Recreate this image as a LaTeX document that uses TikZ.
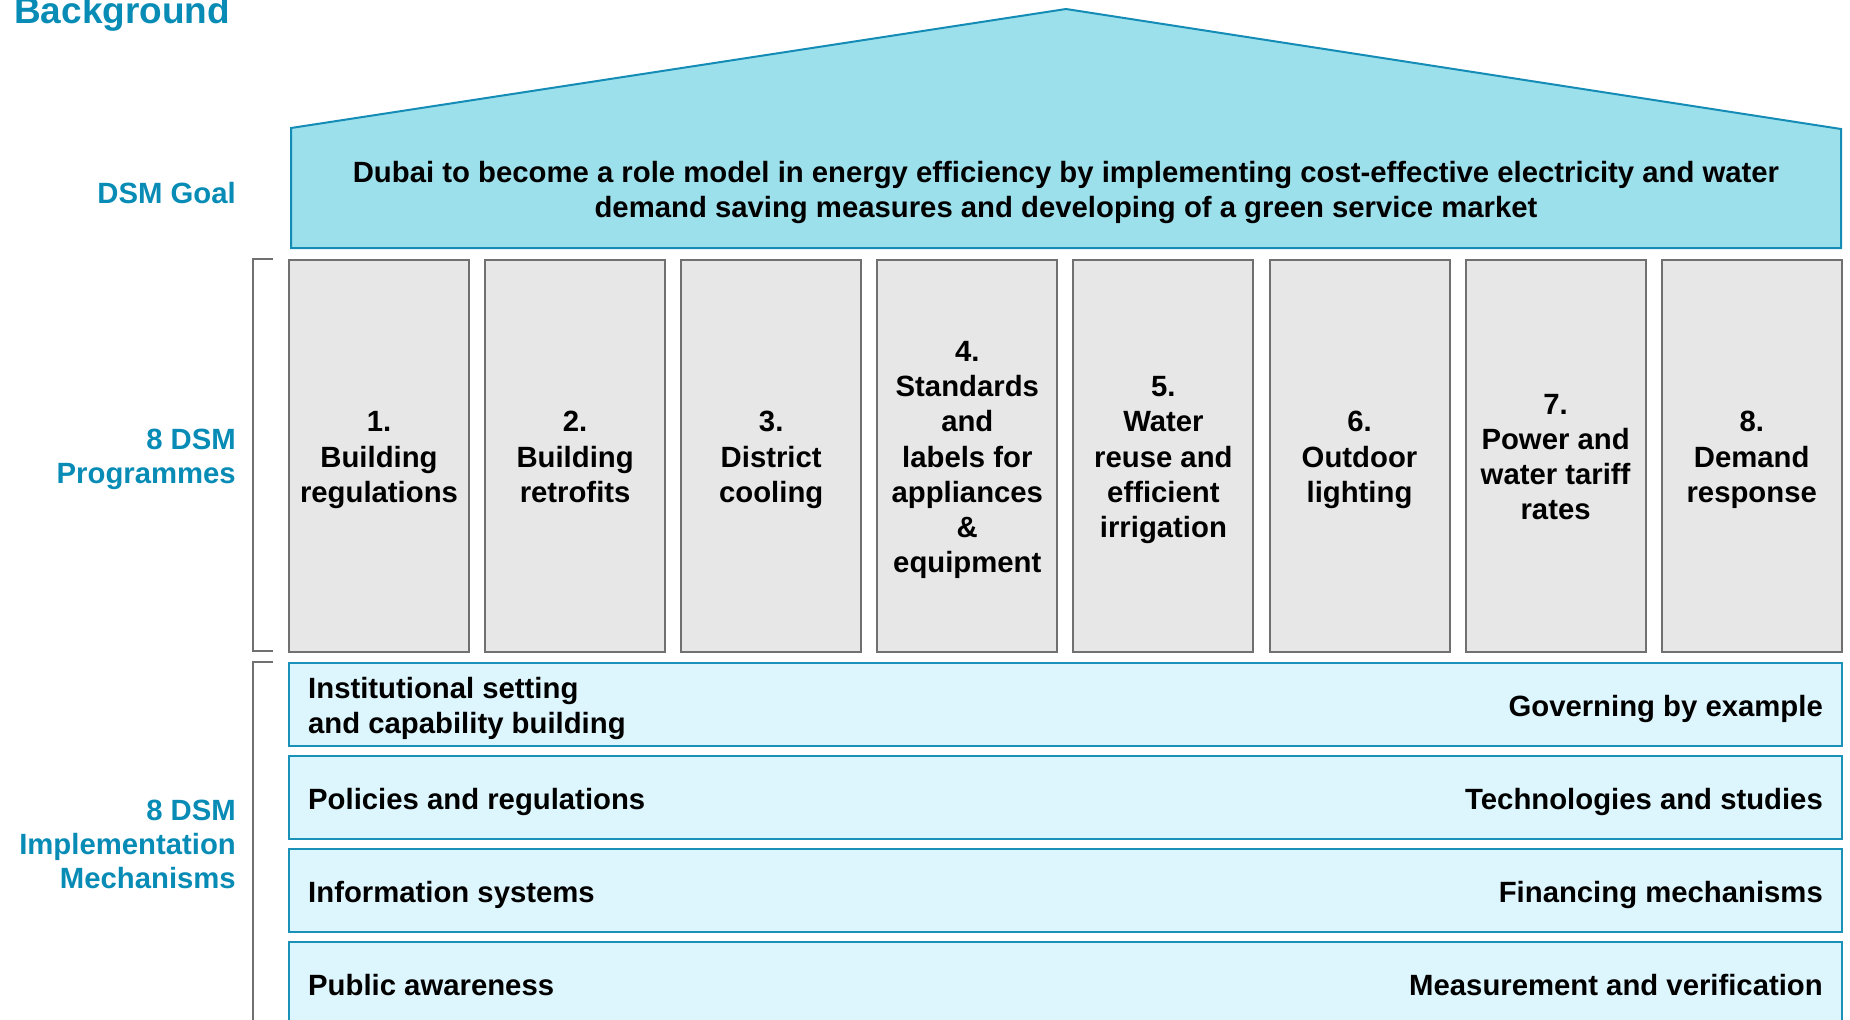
\documentclass[tikz,border=0pt]{standalone}
\usepackage{fontspec}
\setmainfont{Liberation Sans}
\usetikzlibrary{calc}
\definecolor{lblc}{RGB}{8,140,182}
\definecolor{rooffill}{RGB}{156,224,236}
\definecolor{roofline}{RGB}{20,140,182}
\definecolor{progfill}{RGB}{231,231,231}
\definecolor{progline}{RGB}{112,112,112}
\definecolor{mechfill}{RGB}{221,245,252}
\definecolor{mechline}{RGB}{25,145,185}
\definecolor{brkc}{RGB}{112,112,112}
\tikzset{
  lbl/.style={text=lblc, font=\fontsize{29.3}{34}\selectfont\bfseries, align=right, inner sep=0pt},
  prog/.style={draw=progline, fill=progfill, line width=2pt, minimum width=180pt, minimum height=392pt, inner sep=0pt, anchor=north west},
  progtxt/.style={font=\fontsize{29.3}{35.2}\selectfont\bfseries, align=center, inner sep=0pt},
  mech/.style={draw=mechline, fill=mechfill, line width=2pt, minimum width=1553pt, minimum height=83pt, inner sep=0pt, anchor=north west},
  mechtxt/.style={font=\fontsize{29.3}{35}\selectfont\bfseries, inner sep=0pt},
  goaltxt/.style={font=\fontsize{29.3}{35.4}\selectfont\bfseries, align=center, inner sep=0pt},
  brk/.style={draw=brkc, line width=2pt},
  roofst/.style={draw=roofline, fill=rooffill, line width=2pt, line join=miter}
}
\begin{document}
\begin{tikzpicture}[x=1pt,y=-1pt]
\useasboundingbox (0,0) rectangle (1850,1020);
% titles and side labels
\node[lbl, anchor=base west, font=\fontsize{37}{44}\selectfont\bfseries] (bg) at (14,23) {Background};
\node[lbl, anchor=base east] (lgoal) at (236,203) {DSM Goal};
\node[lbl, anchor=east] (lprog) at (236,460) {\strut 8 DSM\\Programmes\strut};
\node[lbl, anchor=east] (lmech) at (236,848) {\strut 8 DSM\\Implementation\\Mechanisms\strut};
% roof / goal
\draw[roofst] (291,248) -- (291,128) -- (1066,9) -- (1841,129) -- (1841,248) -- cycle;
\node[goaltxt] (goal) at (1066,193) {\strut Dubai to become a role model in energy efficiency by implementing cost-effective electricity and water\\demand saving measures and developing of a green service market\strut};
% brackets
\draw[brk] (273,259) -- (253,259) -- (253,651) -- (273,651);
\draw[brk] (273,662) -- (253,662) -- (253,1030);
% programmes
\node[prog] (p1) at (288,259) {};
\node[prog] (p2) at (484.1,259) {};
\node[prog] (p3) at (680.2,259) {};
\node[prog] (p4) at (876.3,259) {};
\node[prog] (p5) at (1072.4,259) {};
\node[prog] (p6) at (1268.5,259) {};
\node[prog] (p7) at (1464.6,259) {};
\node[prog] (p8) at (1660.7,259) {};
\node[progtxt] (t1) at ($(p1.center)+(0,4)$) {\strut 1.\\Building\\regulations\strut};
\node[progtxt] (t2) at ($(p2.center)+(0,4)$) {\strut 2.\\Building\\retrofits\strut};
\node[progtxt] (t3) at ($(p3.center)+(0,4)$) {\strut 3.\\District\\cooling\strut};
\node[progtxt] (t4) at ($(p4.center)+(0,4)$) {\strut 4.\\Standards\\and\\labels for\\appliances\\\&\\equipment\strut};
\node[progtxt] (t5) at ($(p5.center)+(0,4)$) {\strut 5.\\Water\\reuse and\\efficient\\irrigation\strut};
\node[progtxt] (t6) at ($(p6.center)+(0,4)$) {\strut 6.\\Outdoor\\lighting\strut};
\node[progtxt] (t7) at ($(p7.center)+(0,4)$) {\strut 7.\\Power and\\water tariff\\rates\strut};
\node[progtxt] (t8) at ($(p8.center)+(0,4)$) {\strut 8.\\Demand\\response\strut};
% mechanisms
\node[mech] (r1) at (288,662) {};
\node[mech] (r2) at (288,755) {};
\node[mech] (r3) at (288,848) {};
\node[mech] (r4) at (288,941) {};
\node[mechtxt, anchor=west, align=left] (m1l) at (308,709) {\strut Institutional setting\\and capability building\strut};
\node[mechtxt, anchor=base east] (m1r) at (1823,716) {Governing by example};
\node[mechtxt, anchor=base west] (m2l) at (308,809) {Policies and regulations};
\node[mechtxt, anchor=base east] (m2r) at (1823,809) {Technologies and studies};
\node[mechtxt, anchor=base west] (m3l) at (308,902) {Information systems};
\node[mechtxt, anchor=base east] (m3r) at (1823,902) {Financing mechanisms};
\node[mechtxt, anchor=base west] (m4l) at (308,995) {Public awareness};
\node[mechtxt, anchor=base east] (m4r) at (1823,995) {Measurement and verification};
\end{tikzpicture}
\end{document}
